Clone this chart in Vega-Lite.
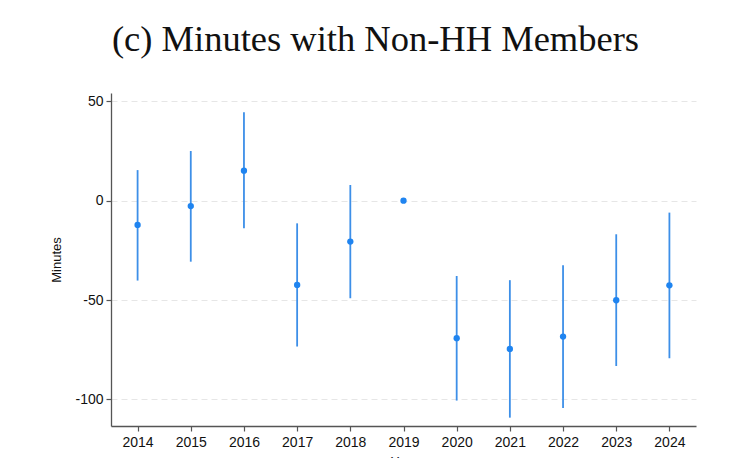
{
  "$schema": "https://vega.github.io/schema/vega-lite/v6.json",
  "autosize": {"type": "none"},
  "padding": {"left": 111, "top": 93, "right": 49, "bottom": 32},
  "width": 585,
  "height": 333,
  "background": "white",
  "title": {
    "text": "(c) Minutes with Non-HH Members",
    "font": "Liberation Serif",
    "fontSize": 36.5,
    "fontWeight": "normal",
    "color": "#111111",
    "anchor": "middle",
    "baseline": "alphabetic",
    "offset": 6,
    "dx": -28
  },
  "data": {
    "values": [
      {"year": 2014, "est": -12.2, "lo": -40.2, "hi": 15.4},
      {"year": 2015, "est": -2.7, "lo": -30.7, "hi": 25.0},
      {"year": 2016, "est": 15.1, "lo": -13.9, "hi": 44.5},
      {"year": 2017, "est": -42.4, "lo": -73.4, "hi": -11.4},
      {"year": 2018, "est": -20.6, "lo": -49.1, "hi": 7.9},
      {"year": 2019, "est": 0.0, "lo": null, "hi": null},
      {"year": 2020, "est": -69.2, "lo": -100.6, "hi": -37.9},
      {"year": 2021, "est": -74.6, "lo": -109.2, "hi": -40.0},
      {"year": 2022, "est": -68.4, "lo": -104.4, "hi": -32.5},
      {"year": 2023, "est": -50.1, "lo": -83.2, "hi": -16.9},
      {"year": 2024, "est": -42.6, "lo": -79.3, "hi": -6.0}
    ]
  },
  "encoding": {
    "x": {
      "field": "year",
      "type": "quantitative",
      "scale": {"domain": [2013.5, 2024.5], "nice": false, "zero": false},
      "axis": {
        "title": "Year",
        "values": [2014, 2015, 2016, 2017, 2018, 2019, 2020, 2021, 2022, 2023, 2024],
        "format": "d",
        "grid": false,
        "labelFontSize": 14,
        "labelPadding": 4,
        "titleFontSize": 13,
        "titleFontWeight": "normal",
        "titleBaseline": "top",
        "titleY": 29
      }
    }
  },
  "layer": [
    {
      "mark": {"type": "rule", "color": "#3d8fe8", "strokeWidth": 1.8},
      "encoding": {
        "y": {
          "field": "lo",
          "type": "quantitative",
          "scale": {"domain": [-113.4, 54.2], "nice": false, "zero": false},
          "axis": {
            "title": "Minutes",
            "values": [-100, -50, 0, 50],
            "labelExpr": "datum.value + ''",
            "grid": true,
            "gridColor": "#e6e6e6",
            "gridDash": [6, 4],
            "gridWidth": 1,
            "labelFontSize": 14,
            "labelPadding": 3,
            "titleFontSize": 13,
            "titleFontWeight": "normal",
            "titleX": -55,
            "titleBaseline": "middle"
          }
        },
        "y2": {"field": "hi"}
      }
    },
    {
      "mark": {"type": "point", "filled": true, "color": "#1f84f0", "size": 40, "opacity": 1},
      "encoding": {
        "y": {"field": "est", "type": "quantitative"}
      }
    }
  ],
  "config": {
    "view": {"stroke": null},
    "font": "Liberation Sans",
    "axis": {
      "domainColor": "#555555",
      "domainWidth": 1.3,
      "tickColor": "#555555",
      "tickWidth": 1.2,
      "tickSize": 5,
      "labelColor": "#111111",
      "titleColor": "#111111",
      "labelFont": "Liberation Sans",
      "titleFont": "Liberation Sans"
    }
  }
}
